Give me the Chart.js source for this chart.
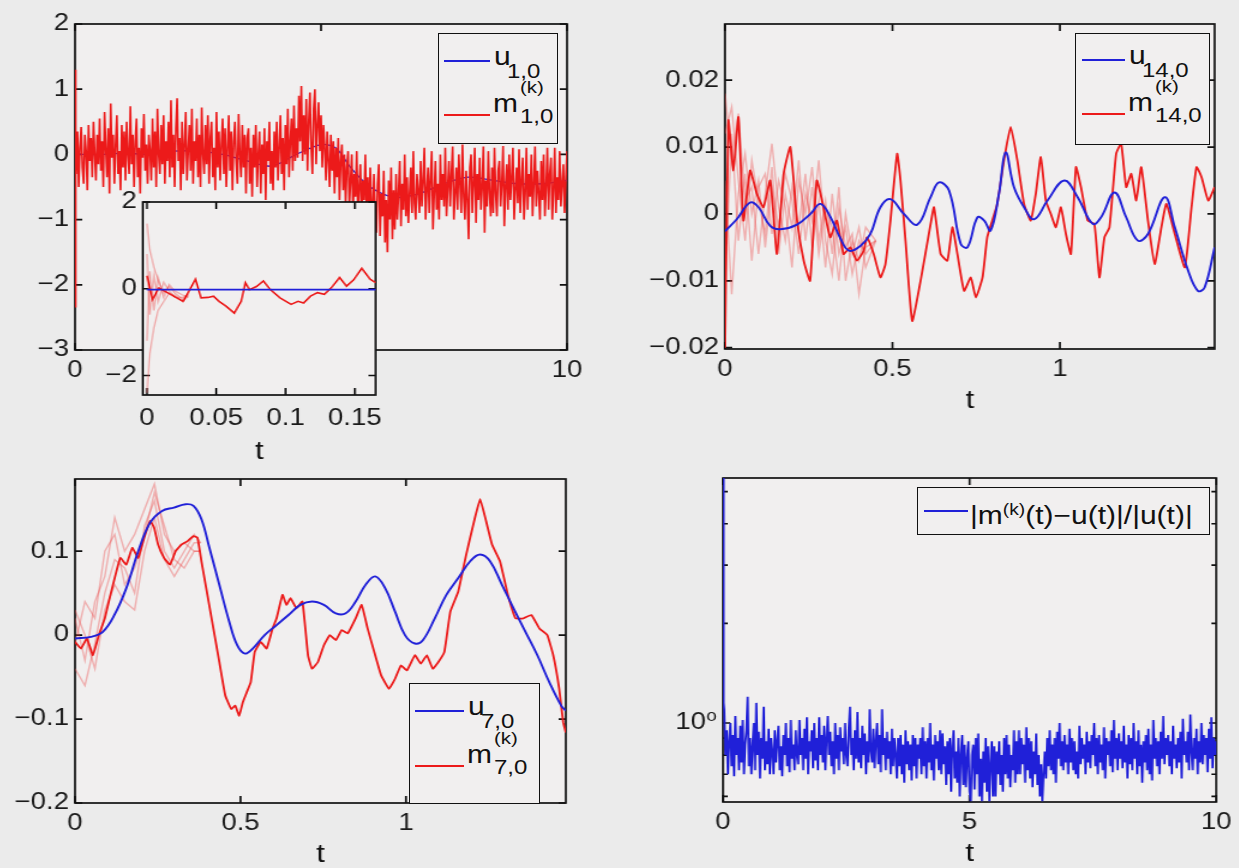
<!DOCTYPE html>
<html>
<head>
<meta charset="utf-8">
<script src="https://cdn.jsdelivr.net/npm/chart.js@4.4.0/dist/chart.umd.min.js"></script>
<style>
  body { margin: 0; width: 1239px; height: 868px; overflow: hidden; position: relative; background: #ebebeb;
         font-family: 'Liberation Sans', Arial, sans-serif; }
  canvas { position: absolute; transform-origin: 0 0; }
  .leg { position: absolute; background: #f1efef; border: 1.6px solid #111; box-sizing: border-box; }
  .ln { position: absolute; height: 0; border-top: 2px solid; }
  .tx { position: absolute; white-space: nowrap; line-height: 1; color: #111; transform-origin: 0 50%; transform: scaleX(1.2); }
  .tx sup { font-size: 16px; vertical-align: 9px; }
</style>
</head>
<body>
<script>
// ---- data ----

// top left: u_{1,0} and m^(k)_{1,0}, t in [0,10]
const uA_t = [0, 0.5, 1, 1.5, 2, 2.5, 3, 3.5, 4, 4.5, 5, 5.3, 5.6, 6, 6.5, 7, 7.5, 8, 8.5, 9, 9.5, 10];
const uA_v = [0, 0, 0.02, 0, 0.05, 0.05, 0, -0.1, -0.18, 0, 0.15, 0.1, -0.2, -0.5, -0.66, -0.6, -0.45, -0.35, -0.4, -0.45, -0.45, -0.4];
const mA_headT = [0, 0.008, 0.016];
const mA_headV = [1.3, -2.35, 0.1];
const mA_step = 0.025; // samples from t = 0.025 to 10
const mA = [
  -0.3, 0.35, -0.5, 0.1, 0.42, -0.2, -0.45, 0.3, 0.05, -0.55, 0.45, -0.1, 0.25, -0.35, 0.5, 0.0, -0.4, 0.3, -0.15, 0.55,
  -0.25, 0.2, -0.5, 0.65, 0.1, -0.35, 0.4, -0.6, 0.78, -0.05, 0.3, -0.45, 0.15, 0.6, -0.3, 0.05, -0.55, 0.45, -0.2, 0.35,
  -0.4, 0.5, 0.0, -0.3, 0.74, -0.15, 0.3, -0.5, 0.2, 0.55, -0.35, 0.1, -0.6, 0.4, -0.05, 0.62, -0.25, 0.15, -0.45, 0.3,
  0.05, -0.4, 0.55, -0.2, 0.35, -0.5, 0.7, 0.0, -0.3, 0.45, -0.15, 0.6, -0.45, 0.2, -0.1, 0.5, -0.35, 0.83, -0.2, 0.3,
  -0.5, 0.4, 0.86, -0.1, 0.25, -0.55, 0.5, -0.3, 0.15, 0.65, -0.4, 0.05, 0.45, -0.25, 0.7, -0.45, 0.2, -0.1, 0.55, -0.35,
  0.3, -0.5, 0.72, 0.0, -0.3, 0.45, -0.15, 0.6, -0.45, 0.25, 0.5, -0.35, 0.1, -0.55, 0.65, -0.2, 0.35, -0.4, 0.15, 0.55,
  -0.3, 0.4, -0.5, 0.1, 0.6, -0.25, 0.35, -0.55, 0.2, 0.5, -0.1, -0.45, 0.62, 0.0, -0.35, 0.45, -0.2, 0.3, -0.6, 0.25,
  0.4, -0.45, 0.1, -0.65, 0.3, -0.2, 0.45, -0.5, 0.0, 0.35, -0.6, 0.15, -0.3, 0.4, -0.7, 0.2, -0.1, 0.5, -0.45, 0.05,
  -0.55, 0.35, -0.2, 0.5, -0.4, 0.1, 0.6, -0.3, 0.25, -0.55, 0.45, -0.15, 0.7, -0.35, 0.2, 0.55, -0.25, 0.75, -0.1, 0.4,
  -0.05, 0.9, 0.2, 1.05, -0.1, 0.6, 0.0, 0.85, -0.25, 0.5, 0.95, 0.1, -0.3, 0.7, 1.0, -0.15, 0.45, 0.8, 0.05, 0.6,
  -0.2, 0.45, 0.1, -0.4, 0.35, -0.1, -0.5, 0.3, -0.25, 0.2, -0.6, 0.1, -0.35, 0.25, -0.7, -0.1, 0.15, -0.55, 0.0, -0.75,
  -0.2, 0.05, -0.8, -0.4, 0.0, -0.9, -0.3, -0.65, 0.05, -0.95, -0.5, -0.15, -1.0, -0.4, -0.7, 0.0, -0.9, -0.35, -1.05, -0.2,
  -0.75, -1.1, -0.3, -0.9, -1.2, -0.45, -0.15, -1.25, -0.6, -0.95, -0.25, -1.35, -0.7, -1.5, -0.4, -1.0, -0.2, -1.3, -0.55, -1.15,
  -0.3, -1.0, -0.6, -0.1, -1.1, -0.45, -0.85, 0.0, -0.95, -0.35, -1.05, -0.6, -0.2, -0.9, 0.05, -0.75, -1.0, -0.3, -0.55, -0.9,
  -0.1, -0.8, -0.4, 0.1, -1.0, -0.55, -0.2, -0.9, -0.35, 0.05, -1.15, -0.6, -0.1, -0.85, -0.45, -1.0, 0.0, -0.7, -0.3, -0.8,
  0.1, -0.95, -0.5, -0.1, -0.8, -0.3, 0.12, -1.0, -0.6, -0.2, -0.85, 0.0, -0.45, -0.9, 0.15, -0.65, -1.0, -0.25, -0.7, -1.3,
  -0.2, 0.0, -0.9, -0.45, 0.1, -1.05, -0.3, -0.7, -0.05, -0.85, -0.5, 0.12, -1.2, -0.4, -0.8, 0.05, -0.6, -0.95, -0.2, -0.9,
  0.1, -0.6, -0.95, -0.25, -0.1, -0.8, -0.45, 0.13, -1.1, -0.5, -0.15, -0.85, 0.0, -0.7, -0.35, 0.1, -1.0, -0.55, -0.2, -0.75,
  0.08, -0.9, -0.4, -0.05, -1.0, -0.6, 0.1, -0.85, -0.3, -0.65, 0.0, -0.95, -0.45, 0.12, -0.8, -0.25, -0.6, -1.0, -0.1, -0.7,
  0.0, -0.95, -0.5, 0.1, -0.85, -0.3, -0.05, -1.0, -0.55, 0.1, -0.9, -0.35, -0.7, 0.05, -0.8, -0.45, -0.15, -0.9, -0.4, 0.05
];

// inset: zoom on t in [0, 0.165]
const uI_t = [0, 0.165];
const uI_v = [-0.02, -0.02];
const mI_t = [0, 0.004, 0.0085, 0.017, 0.026, 0.029, 0.035, 0.039, 0.044, 0.048, 0.052, 0.057, 0.063, 0.068, 0.071, 0.074, 0.079,
  0.084, 0.089, 0.096, 0.104, 0.109, 0.113, 0.118, 0.123, 0.128, 0.133, 0.139, 0.144, 0.149, 0.155, 0.161, 0.165];
const mI_v = [0.3, -0.25, 0.02, -0.13, -0.29, -0.13, 0.22, -0.21, -0.2, -0.17, -0.29, -0.4, -0.56, -0.29, 0.14, -0.02, 0.05,
  0.18, -0.02, -0.21, -0.36, -0.29, -0.33, -0.17, -0.09, -0.13, 0.02, 0.26, 0.06, 0.2, 0.47, 0.22, 0.14];
const pinkI_t = [0, 0.002, 0.005, 0.008, 0.012, 0.016, 0.02, 0.026, 0.03];
const pinkI = [
  [1.5, 0.9, 0.5, 0.2, -0.1, 0.05, -0.1, -0.25, -0.1],
  [-2.4, -1.5, -0.9, -0.5, -0.3, -0.1, -0.15, -0.3, -0.15],
  [0.8, -0.6, 0.3, -0.3, 0.15, -0.05, -0.2, -0.2, -0.12],
  [-1.2, 0.4, -0.5, 0.25, -0.2, 0.1, -0.05, -0.15, -0.2]
];

// top right: u_{14,0} and m^(k)_{14,0}
const uB_t = [0, 0.035, 0.075, 0.1, 0.135, 0.165, 0.215, 0.255, 0.285, 0.315, 0.344, 0.37, 0.404, 0.434, 0.464, 0.494, 0.534, 0.574,
  0.614, 0.639, 0.669, 0.704, 0.724, 0.754, 0.774, 0.793, 0.818, 0.838, 0.863, 0.893, 0.923, 0.963, 1.013, 1.053, 1.098, 1.123,
  1.163, 1.198, 1.233, 1.263, 1.313, 1.343, 1.383, 1.412, 1.432, 1.462];
const uB_v = [-0.0026, -0.0008, 0.0017, 0.001, -0.0018, -0.0023, -0.0016, 0, 0.0015, -0.0005, -0.0036, -0.0055, -0.0048, -0.003,
  0.001, 0.0022, 0, -0.0016, 0.0025, 0.0047, 0.0035, -0.0045, -0.005, -0.0005, -0.001, -0.0025, 0.003, 0.0092, 0.004, 0.001,
  -0.0008, 0.002, 0.005, 0.0025, -0.0015, -0.0005, 0.0032, -0.0005, -0.004, -0.003, 0.0025, -0.002, -0.0085, -0.0115, -0.011, -0.005];
const mB_t = [0, 0.01, 0.025, 0.04, 0.055, 0.075, 0.095, 0.115, 0.135, 0.155, 0.175, 0.195, 0.215, 0.235, 0.254, 0.274, 0.294,
  0.314, 0.334, 0.354, 0.374, 0.394, 0.414, 0.424, 0.444, 0.464, 0.479, 0.494, 0.514, 0.524, 0.539, 0.559, 0.584, 0.614, 0.624,
  0.644, 0.664, 0.679, 0.694, 0.714, 0.734, 0.749, 0.769, 0.783, 0.798, 0.813, 0.833, 0.853, 0.873, 0.893, 0.913, 0.928, 0.943,
  0.958, 0.973, 0.988, 1.003, 1.018, 1.033, 1.048, 1.063, 1.083, 1.103, 1.118, 1.133, 1.148, 1.168, 1.183, 1.198, 1.213, 1.228,
  1.243, 1.263, 1.283, 1.303, 1.318, 1.343, 1.373, 1.393, 1.408, 1.423, 1.443, 1.462];
const mB_v = [-0.02, 0.014, 0.0065, 0.0145, -0.001, 0.0065, 0.003, 0.001, 0.005, -0.006, 0.006, 0.01, -0.001, -0.007, -0.01,
  0.005, 0.001, -0.0035, -0.001, -0.006, -0.005, -0.007, -0.0055, -0.0035, -0.006, -0.0095, -0.0075, -0.001, 0.009, 0.005,
  -0.004, -0.016, -0.01, -0.0015, 0.001, -0.006, -0.007, -0.002, -0.006, -0.0115, -0.0095, -0.0125, -0.0095, -0.0035, -0.001,
  0.0015, 0.008, 0.013, 0.008, 0.0015, -0.001, 0.003, 0.0085, 0.002, 0, -0.002, 0.001, -0.003, -0.006, 0.007, 0.004, -0.001,
  -0.0015, -0.0095, -0.0035, -0.002, 0.009, 0.0105, 0.004, 0.006, 0.002, 0.007, -0.001, -0.0075, -0.002, 0.0015, -0.003,
  -0.008, 0.001, 0.007, 0.0055, 0.002, 0.004];
const pinkB_t = [0, 0.02, 0.04, 0.06, 0.08, 0.1, 0.12, 0.14, 0.16, 0.18, 0.2, 0.22, 0.24, 0.26, 0.28, 0.3, 0.32, 0.34, 0.36,
  0.38, 0.4, 0.42, 0.45];
const pinkB = [
  [0.018, 0.008, 0.015, 0.002, 0.004, -0.006, 0.003, 0.0105, 0.001, -0.004, 0.004, -0.002, 0.006, -0.005, 0.002, -0.008, 0.003, -0.006, -0.002, -0.009, -0.004, -0.006, -0.004],
  [-0.01, 0.012, -0.004, 0.006, -0.007, 0.004, 0.006, -0.003, 0.005, 0.001, -0.008, 0.005, 0.0, 0.007, -0.004, 0.002, -0.006, 0.004, -0.01, -0.004, -0.007, -0.002, -0.004],
  [0.005, -0.012, 0.003, 0.009, 0.0, 0.005, -0.005, 0.004, -0.002, 0.006, 0.002, -0.006, 0.003, -0.001, 0.008, -0.004, -0.009, 0.001, -0.005, -0.003, -0.012, -0.005, -0.004],
  [0.012, 0.016, 0.005, -0.004, 0.008, 0.002, -0.003, 0.007, -0.006, 0.003, -0.002, 0.008, -0.004, 0.004, -0.006, 0.001, -0.002, -0.01, 0.0, -0.006, -0.002, -0.008, -0.004]
];

// bottom left: u_{7,0} and m^(k)_{7,0}
const uC_t = [0, 0.048, 0.084, 0.119, 0.155, 0.191, 0.227, 0.263, 0.299, 0.334, 0.358, 0.382, 0.406, 0.436, 0.466, 0.49, 0.513,
  0.537, 0.573, 0.609, 0.645, 0.681, 0.716, 0.752, 0.788, 0.818, 0.848, 0.878, 0.907, 0.937, 0.967, 0.997, 1.027, 1.051, 1.087,
  1.122, 1.158, 1.194, 1.224, 1.254, 1.29, 1.325, 1.361, 1.397, 1.433, 1.469, 1.483];
const uC_v = [-0.004, -0.002, 0.004, 0.024, 0.056, 0.1, 0.134, 0.148, 0.152, 0.156, 0.154, 0.138, 0.104, 0.06, 0.016, -0.012,
  -0.022, -0.016, 0, 0.012, 0.024, 0.036, 0.04, 0.036, 0.026, 0.026, 0.04, 0.06, 0.07, 0.056, 0.028, 0, -0.01, -0.006, 0.02,
  0.048, 0.068, 0.088, 0.096, 0.088, 0.06, 0.032, 0.004, -0.024, -0.056, -0.084, -0.09];
const mC_t = [0, 0.018, 0.036, 0.054, 0.072, 0.09, 0.107, 0.125, 0.137, 0.155, 0.173, 0.191, 0.209, 0.227, 0.239, 0.251, 0.269,
  0.287, 0.304, 0.322, 0.34, 0.358, 0.37, 0.382, 0.4, 0.418, 0.436, 0.454, 0.472, 0.484, 0.496, 0.507, 0.519, 0.531, 0.543,
  0.561, 0.579, 0.597, 0.609, 0.627, 0.639, 0.651, 0.669, 0.687, 0.704, 0.716, 0.734, 0.752, 0.77, 0.788, 0.806, 0.824, 0.848,
  0.866, 0.884, 0.907, 0.925, 0.949, 0.967, 0.985, 1.003, 1.027, 1.045, 1.063, 1.081, 1.098, 1.116, 1.134, 1.158, 1.182, 1.206,
  1.224, 1.242, 1.26, 1.284, 1.308, 1.331, 1.355, 1.379, 1.403, 1.427, 1.445, 1.463, 1.475, 1.483];
const mC_v = [-0.008, -0.016, -0.004, -0.024, 0, 0.02, 0.048, 0.076, 0.092, 0.084, 0.104, 0.092, 0.116, 0.136, 0.128, 0.108,
  0.092, 0.084, 0.1, 0.108, 0.112, 0.118, 0.116, 0.088, 0.048, 0.008, -0.032, -0.072, -0.088, -0.084, -0.096, -0.08, -0.068,
  -0.056, -0.02, -0.008, -0.016, 0.008, 0.02, 0.048, 0.036, 0.044, 0.032, 0.04, -0.024, -0.04, -0.032, -0.012, 0, -0.006,
  0.006, 0.002, 0.02, 0.036, 0.008, -0.024, -0.048, -0.064, -0.052, -0.036, -0.042, -0.024, -0.034, -0.024, -0.04, -0.032,
  -0.02, 0.028, 0.052, 0.096, 0.136, 0.162, 0.136, 0.108, 0.088, 0.048, 0.02, 0.02, 0.024, 0.008, 0, -0.024, -0.064, -0.104, -0.116];
const pinkC_t = [0, 0.03, 0.06, 0.09, 0.12, 0.15, 0.18, 0.21, 0.24, 0.27, 0.3, 0.33, 0.36, 0.38];
const pinkC = [
  [0.02, -0.03, 0.04, 0.07, 0.14, 0.1, 0.12, 0.15, 0.18, 0.12, 0.1, 0.11, 0.1, 0.1],
  [-0.04, -0.06, -0.01, 0.05, 0.09, 0.08, 0.05, 0.13, 0.16, 0.1, 0.08, 0.1, 0.12, 0.11],
  [0.03, 0.0, -0.04, 0.03, 0.06, 0.04, 0.03, 0.1, 0.14, 0.09, 0.07, 0.09, 0.11, 0.11],
  [-0.01, 0.04, 0.02, 0.1, 0.12, 0.06, 0.08, 0.12, 0.17, 0.13, 0.09, 0.08, 0.1, 0.1]
];

// bottom right: relative error |m(t)-u(t)|/|u(t)| (log axis)
const errHeadT = [0, 0.006, 0.012, 0.018];
const errHeadV = [5.5, 3.0, 1.6, 1.15];
const errStep = 0.025; // samples from t = 0.025 to 10
const err = [
  1.1, 0.8, 0.95, 0.7, 0.88, 1.0, 0.74, 0.92, 0.69, 1.05, 0.8, 0.9, 0.72, 0.98, 0.76, 1.02, 0.7, 0.86, 0.95, 1.2,
  0.74, 0.9, 0.7, 0.85, 1.0, 0.72, 1.15, 0.8, 0.94, 0.68, 0.9, 0.78, 1.12, 0.72, 0.88, 0.75, 0.96, 0.7, 0.9, 0.82,
  0.7, 0.95, 0.76, 0.88, 0.98, 0.72, 0.85, 0.69, 0.92, 0.8, 1.0, 0.74, 0.9, 0.71, 1.02, 0.78, 0.86, 0.72, 0.95, 0.8,
  0.75, 1.02, 0.8, 0.9, 0.72, 0.96, 0.78, 1.04, 0.7, 0.88, 0.82, 0.95, 0.73, 1.0, 0.77, 0.9, 0.72, 1.04, 0.8, 0.92,
  0.76, 0.98, 0.72, 0.9, 1.05, 0.8, 0.94, 0.74, 0.88, 0.7, 1.0, 0.78, 0.92, 0.72, 0.97, 0.82, 0.9, 0.75, 1.0, 0.8,
  0.74, 0.95, 1.12, 0.8, 0.9, 0.72, 0.95, 0.78, 1.08, 0.76, 0.9, 0.73, 0.98, 0.8, 0.93, 0.7, 0.88, 0.76, 1.1, 0.82,
  0.76, 0.96, 0.73, 0.88, 1.0, 0.75, 0.92, 0.71, 1.1, 0.8, 0.9, 0.72, 0.94, 0.78, 0.88, 0.7, 0.96, 0.74, 0.9, 0.8,
  0.68, 0.9, 0.74, 0.92, 0.7, 0.86, 0.66, 0.95, 0.75, 0.88, 0.72, 0.86, 0.67, 0.92, 0.74, 0.9, 0.68, 0.86, 0.78, 0.9,
  0.7, 0.97, 0.74, 0.88, 0.68, 0.9, 0.76, 1.0, 0.72, 0.86, 0.67, 0.92, 0.78, 0.88, 0.72, 0.95, 0.7, 0.93, 0.75, 0.85,
  0.65, 0.88, 0.7, 0.9, 0.62, 0.85, 0.95, 0.68, 0.82, 0.66, 0.9, 0.6, 0.8, 0.92, 0.65, 0.86, 0.64, 0.78, 0.88, 0.62,
  0.58, 0.8, 0.86, 0.63, 0.9, 0.7, 0.93, 0.6, 0.78, 0.58, 0.82, 0.66, 0.9, 0.62, 0.85, 0.58, 0.75, 0.88, 0.6, 0.85,
  0.6, 0.82, 0.7, 0.88, 0.65, 0.8, 0.62, 0.9, 0.7, 0.92, 0.68, 0.86, 0.64, 0.8, 0.72, 0.95, 0.66, 0.88, 0.7, 0.95,
  0.7, 0.9, 0.75, 0.86, 0.66, 0.97, 0.72, 0.9, 0.68, 0.88, 0.64, 0.82, 0.7, 0.93, 0.65, 0.8, 0.6, 0.75, 0.58, 0.7,
  0.82, 0.68, 0.9, 0.74, 0.95, 0.72, 0.86, 0.7, 0.9, 0.66, 0.94, 0.78, 1.0, 0.74, 0.88, 0.72, 0.92, 0.76, 0.86, 0.7,
  0.96, 0.76, 0.9, 0.72, 0.88, 0.7, 0.82, 0.68, 0.98, 0.75, 0.9, 0.78, 0.86, 0.7, 0.94, 0.76, 0.88, 0.73, 0.92, 0.8,
  1.0, 0.74, 0.9, 0.7, 0.92, 0.76, 0.86, 0.72, 0.97, 0.68, 0.9, 0.8, 0.88, 0.74, 0.95, 0.71, 1.02, 0.78, 0.9, 0.72,
  0.93, 0.78, 0.88, 0.73, 0.98, 0.76, 0.86, 0.68, 0.92, 0.75, 0.9, 0.72, 1.0, 0.78, 0.88, 0.7, 0.95, 0.74, 0.86, 0.66,
  0.88, 0.76, 0.92, 0.72, 0.96, 0.7, 0.86, 0.67, 1.02, 0.78, 0.9, 0.74, 0.88, 0.7, 0.94, 0.78, 1.05, 0.75, 0.9, 0.8,
  0.92, 0.74, 0.88, 0.7, 0.98, 0.78, 0.86, 0.73, 0.9, 0.76, 0.94, 0.68, 1.03, 0.8, 0.88, 0.76, 0.94, 0.72, 1.06, 0.82,
  0.72, 0.9, 0.78, 0.96, 0.7, 0.88, 0.76, 1.0, 0.75, 0.92, 0.8, 0.9, 0.71, 0.96, 0.78, 1.04, 0.73, 0.9, 0.8, 0.88
];

// ---- drawing ----
const S = 1.2; // the source frame is stretched horizontally
const FONT = "'Liberation Sans', 'DejaVu Sans', Arial, sans-serif";
const PLOT_BG = '#f1efef';
const BLUE = '#2020d8', RED = '#ec1a1a', PINK = 'rgba(236,70,70,0.38)';

const pts = (ts, vs) => ts.map((t, i) => ({x: t, y: vs[i]}));
const grid = (step, n) => Array.from({length: n}, (_, i) => +(step * (i + 1)).toFixed(3));
const fmt = v => v === 0 ? '0' : (v < 0 ? '\u2212' : '') + String(+Math.abs(v).toFixed(4));

function line(data, color, order, w, tension) {
  return {data, borderColor: color, borderWidth: w || 1.3, pointRadius: 0, fill: false, tension: tension || 0, order};
}

const frame = {
  id: 'frame',
  beforeDraw(c) {
    const a = c.chartArea, ctx = c.ctx;
    ctx.save();
    ctx.fillStyle = PLOT_BG;
    ctx.fillRect(a.left, a.top, a.width, a.height);
    ctx.restore();
  },
  beforeDatasetsDraw(c) {
    const {ctx, chartArea: a, scales} = c;
    ctx.save();
    ctx.strokeStyle = '#111';
    ctx.lineWidth = 1.7;
    ctx.strokeRect(a.left, a.top, a.width, a.height);
    ctx.beginPath();
    scales.x.ticks.forEach(t => {
      const px = scales.x.getPixelForValue(t.value);
      ctx.moveTo(px, a.bottom); ctx.lineTo(px, a.bottom - 7);
      ctx.moveTo(px, a.top); ctx.lineTo(px, a.top + 7);
    });
    scales.y.ticks.forEach(t => {
      const py = scales.y.getPixelForValue(t.value);
      const len = t.minor ? 4 : 6;
      ctx.moveTo(a.left, py); ctx.lineTo(a.left + len, py);
      ctx.moveTo(a.right, py); ctx.lineTo(a.right - len, py);
    });
    ctx.stroke();
    ctx.restore();
  }
};

function panel(box, o) {
  const L = o.L || 70, T = 14, R = 22, B = 78;
  const W = Math.round(L + (box.r - box.l) / S + R);
  const H = T + (box.b - box.t) + B;
  const cv = document.createElement('canvas');
  cv.width = W; cv.height = H;
  cv.style.left = (box.l - L * S) + 'px';
  cv.style.top = (box.t - T) + 'px';
  cv.style.transform = 'scaleX(' + S + ')';
  document.body.appendChild(cv);
  const tickFont = {family: FONT, size: 23};
  return new Chart(cv, {
    type: 'line',
    data: {datasets: o.datasets},
    options: {
      responsive: false, animation: false, events: [],
      layout: {padding: {left: 0, top: T, right: R, bottom: 0}},
      plugins: {legend: {display: false}, tooltip: {enabled: false}},
      scales: {
        x: {
          type: 'linear', min: o.x[0], max: o.x[1],
          afterBuildTicks: s => { s.ticks = o.xt.map(v => ({value: v})); },
          afterFit: s => { s.height = B; s.paddingLeft = 0; s.paddingRight = 0; },
          grid: {display: false, drawTicks: false}, border: {display: false},
          ticks: {font: tickFont, color: '#1a1a1a', padding: o.xpad || 7, autoSkip: false, maxRotation: 0, minRotation: 0, callback: fmt},
          title: {display: !!o.xtitle, text: 't', font: {family: FONT, size: 26}, color: '#111', padding: {top: 0, bottom: o.tpad || 11}}
        },
        y: {
          type: o.log ? 'logarithmic' : 'linear', min: o.y[0], max: o.y[1],
          afterBuildTicks: s => { s.ticks = o.yt.map(v => ({value: v, minor: !!(o.ymajor && !o.ymajor.includes(v))})); },
          afterFit: s => { s.width = L; s.paddingTop = 0; s.paddingBottom = 0; },
          grid: {display: false, drawTicks: false}, border: {display: false},
          ticks: {font: tickFont, color: '#1a1a1a', padding: 5, autoSkip: false, callback: o.ylab || fmt}
        }
      }
    },
    plugins: [frame]
  });
}

// top left
panel({l: 75, t: 24, r: 567, b: 350}, {
  x: [0, 10], xt: [0, 5, 10], y: [-3, 2], yt: [-3, -2, -1, 0, 1, 2],
  datasets: [
    line(pts(uA_t, uA_v), BLUE, 2, 1.3, 0.3),
    line(pts(mA_headT.concat(grid(mA_step, mA.length)), mA_headV.concat(mA)), RED, 1, 1.6)
  ]
});
// top right
panel({l: 725, t: 24, r: 1214, b: 349}, {
  x: [0, 1.462], xt: [0, 0.5, 1], y: [-0.0202, 0.0284], yt: [-0.02, -0.01, 0, 0.01, 0.02], xtitle: true,
  datasets: [
    line(pts(uB_t, uB_v), BLUE, 1, 1.9, 0.4),
    line(pts(mB_t, mB_v), RED, 2, 1.8, 0.15)
  ].concat(pinkB.map(v => line(pts(pinkB_t, v), PINK, 3, 1.4)))
});
// bottom left
panel({l: 75, t: 479, r: 566, b: 803}, {
  x: [0, 1.483], xt: [0, 0.5, 1], y: [-0.2, 0.186], yt: [-0.2, -0.1, 0, 0.1], xtitle: true,
  datasets: [
    line(pts(uC_t, uC_v), BLUE, 1, 1.9, 0.4),
    line(pts(mC_t, mC_v), RED, 2, 1.8, 0.1)
  ].concat(pinkC.map(v => line(pts(pinkC_t, v), PINK, 3, 1.4)))
});
// bottom right
panel({l: 723, t: 478, r: 1216, b: 802}, {
  x: [0, 10], xt: [0, 5, 10], y: [0.577, 5.5], log: true, xtitle: true,
  yt: [0.6, 0.7, 0.8, 0.9, 1, 2, 3, 4, 5], ymajor: [1],
  ylab: v => v === 1 ? '10\u2070' : '',
  datasets: [line(pts(errHeadT.concat(grid(errStep, err.length)), errHeadV.concat(err)), BLUE, 1, 1.8)]
});
// inset
panel({l: 143, t: 202, r: 376, b: 395}, {
  L: 44, x: [-0.003, 0.165], xt: [0, 0.05, 0.1, 0.15], y: [-2.45, 2], yt: [-2, 0, 2], xtitle: true, xpad: 10, tpad: 6,
  datasets: [
    line(pts(uI_t, uI_v), BLUE, 1, 1.8),
    line(pts(mI_t, mI_v), RED, 2, 1.6)
  ].concat(pinkI.map(v => line(pts(pinkI_t, v), PINK, 3, 1.4)))
});

// ---- legends (html text) ----
function el(cls, css, html) {
  const d = document.createElement('div');
  d.className = cls;
  Object.assign(d.style, css);
  if (html) d.innerHTML = html;
  document.body.appendChild(d);
  return d;
}
function txt(s, x, cy, size) {
  el('tx', {left: x + 'px', top: (cy - size / 2) + 'px', fontSize: size + 'px'}, s);
}
function legend2(bx, sub) {
  el('leg', {left: bx.l + 'px', top: bx.t + 'px', width: (bx.r - bx.l) + 'px', height: (bx.b - bx.t) + 'px'});
  el('ln', {left: bx.x1 + 'px', width: (bx.x2 - bx.x1) + 'px', top: (bx.yb - 1) + 'px', borderColor: BLUE});
  el('ln', {left: bx.x1 + 'px', width: (bx.x2 - bx.x1) + 'px', top: (bx.yr - 1) + 'px', borderColor: RED});
  const tx = bx.x2 + 4;
  txt('u', tx, bx.yb - 5, 25);
  txt(sub, tx + 13, bx.yb + 10, 20);
  txt('(k)', tx + 26, bx.yr - 28, 17);
  txt('m', tx - 1, bx.yr - 12, 25);
  txt(sub, tx + 26, bx.yr + 1, 20);
}
legend2({l: 438, t: 33, r: 558, b: 144, x1: 444, x2: 490, yb: 61, yr: 115}, '1,0');
legend2({l: 1075, t: 33, r: 1210, b: 145, x1: 1082, x2: 1125, yb: 60, yr: 114}, '14,0');
legend2({l: 409, t: 683, r: 540, b: 804, x1: 415, x2: 464, yb: 711, yr: 766}, '7,0');

el('leg', {left: '917px', top: '487px', width: '293px', height: '48px'});
el('ln', {left: '924px', width: '44px', top: '510px', borderColor: BLUE});
txt('|m<sup>(k)</sup>(t)\u2212u(t)|/|u(t)|', 970, 514, 25);
</script>
</body>
</html>
